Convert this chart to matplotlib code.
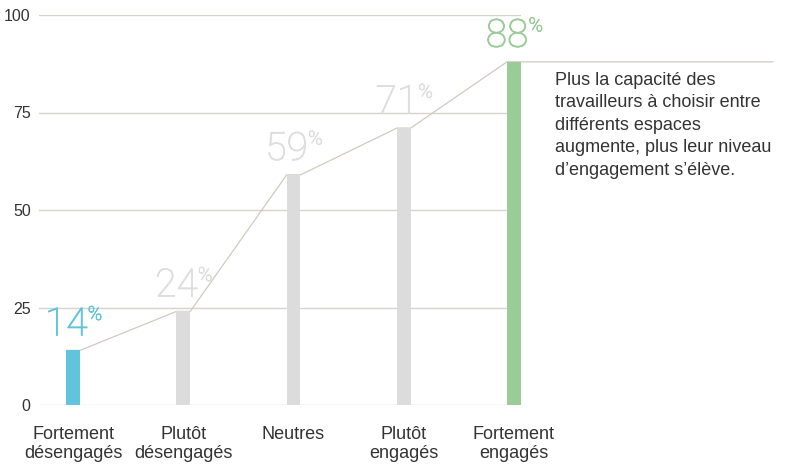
import matplotlib.pyplot as plt
import matplotlib.patheffects as pe
import numpy as np

categories = ["Fortement\ndésengagés", "Plutôt\ndésengagés", "Neutres",
              "Plutôt\nengagés", "Fortement\nengagés"]
values = [14, 24, 59, 71, 88]
bar_colors = ["#62c4dc", "#dcdcdc", "#dcdcdc", "#dcdcdc", "#9bcc98"]
label_colors = ["#62c4dc", "#dedede", "#dedede", "#dedede", "#9bcc98"]
yticks = [0, 25, 50, 75, 100]
note = ("Plus la capacité des\ntravailleurs à choisir entre\ndifférents espaces\n"
        "augmente, plus leur niveau\nd’engagement s’élève.")

plt.rcParams.update({
    "font.family": ["Liberation Sans", "DejaVu Sans"],
    "text.color": "#333333",
})

fig = plt.figure(figsize=(7.85, 4.67), dpi=100)
# axes spans pixel x 39..521, y 15..405
ax = fig.add_axes([39 / 785, 1 - 405 / 467, (521 - 39) / 785, (405 - 15) / 467])

x = np.arange(len(values))
w = 0.125
ax.bar(x, values, width=w, color=bar_colors, zorder=3)

# connecting line across bar tops, continued to the right past the last bar
px, py = [], []
for xi, v in zip(x, values):
    px += [xi - w / 2, xi + w / 2]
    py += [v, v]
px.append(x[-1] + 2.35)
py.append(values[-1])
ax.plot(px, py, color="#cfcbc0", lw=0.9, zorder=2, clip_on=False)

# big percentage labels: digits, then a small superscript %
num_font = ["Roboto", "Liberation Sans"]
for xi, v, c in zip(x, values, label_colors):
    fx = [pe.withStroke(linewidth=0.6, foreground=c)]
    ax.annotate(f"{v}", (xi, v), xytext=(-5, 5), textcoords="offset points",
                ha="center", va="bottom", fontsize=28, color=c,
                family=num_font, fontweight="light", path_effects=fx)
    ax.annotate("%", (xi, v), xytext=(10.5, 32), textcoords="offset points",
                ha="left", va="top", fontsize=14, color=c,
                family=num_font, fontweight="light", path_effects=fx)

ax.text(x[-1] + 0.37, 85.4, note, ha="left", va="top", fontsize=13,
        linespacing=1.42, color="#333333")

ax.set_xlim(-0.31, 4.064)
ax.set_ylim(0, 100)
ax.set_yticks(yticks)
ax.set_xticks(x)
ax.set_xticklabels(categories, fontsize=13, linespacing=1.15)
ax.tick_params(axis="both", length=0, colors="#333333")
ax.tick_params(axis="y", labelsize=11.5, pad=6)
ax.tick_params(axis="x", pad=15)
ax.grid(axis="y", color="#d6d4c8", lw=1, zorder=0)
for s in ax.spines.values():
    s.set_visible(False)

fig.savefig("out.png", dpi=100)
